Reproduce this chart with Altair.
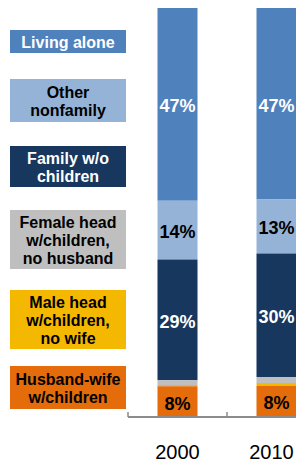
import altair as alt
import pandas as pd

# ---- data ----
years = ["2000", "2010"]
categories = ["Living alone", "Other nonfamily", "Family w/o children",
              "Female head w/children, no husband", "Male head w/children, no wife",
              "Husband-wife w/children"]
legend_labels = ["Living alone", "Other\nnonfamily", "Family w/o\nchildren",
                 "Female head\nw/children,\nno husband", "Male head\nw/children,\nno wife",
                 "Husband-wife\nw/children"]
values_2000 = [47.1, 14.4, 29.5, 1.2, 0.3, 7.5]
values_2010 = [46.8, 13.2, 30.2, 1.5, 0.7, 7.6]
labels_2000 = ["47%", "14%", "29%", "", "", "8%"]
labels_2010 = ["47%", "13%", "30%", "", "", "8%"]

# ---- styles / layout ----
colors = ["#4F81BD", "#95B3D7", "#17375E", "#BFBFBF", "#F5B800", "#E46C0A"]
text_colors = ["#FFFFFF", "#000000", "#FFFFFF", "#000000", "#000000", "#000000"]
stack_order = [5, 4, 3, 2, 1, 0]
legend_top = [22, 71, 138, 202, 282, 358]
legend_height = [23, 43, 41, 59, 59, 43]
year_label_dx = [0, -5]
W = 288
PLOT_H = 409
BOTTOM = 46
LABEL_BASE = PLOT_H + 42
LINE_H = 18
LEG_X0, LEG_X1 = 2, 118
BAR_X0 = 120
BAND = 99
FONT = "Liberation Sans"

rows = []
for yr, vals, labs in [("2000", values_2000, labels_2000), ("2010", values_2010, labels_2010)]:
    for i, c in enumerate(categories):
        rows.append({"year": yr, "category": c, "value": vals[i], "label": labs[i],
                     "order": stack_order[i], "tcolor": text_colors[i]})
df = pd.DataFrame(rows)

leg = pd.DataFrame({
    "label": legend_labels, "color": colors, "tcolor": text_colors,
    "top": legend_top, "bottom": [t + h for t, h in zip(legend_top, legend_height)],
})
leg["nlines"] = leg["label"].str.count("\n") + 1
leg["ytext"] = (leg["top"] + leg["bottom"]) / 2 - (leg["nlines"] - 1) * LINE_H / 2

yscale_leg = alt.Scale(domain=[0, PLOT_H], reverse=True, nice=False)
leg_rect = alt.Chart(leg).mark_rect().encode(
    x=alt.value(LEG_X0), x2=alt.value(LEG_X1),
    y=alt.Y("top:Q", scale=yscale_leg, axis=None), y2="bottom:Q",
    color=alt.Color("color:N", scale=None),
)
leg_text = alt.Chart(leg).mark_text(
    font=FONT, fontSize=16, fontWeight="bold", lineBreak="\n", lineHeight=LINE_H,
    baseline="middle", align="center", dy=1.5,
).encode(
    x=alt.value((LEG_X0 + LEG_X1) / 2),
    y=alt.Y("ytext:Q", scale=yscale_leg, axis=None),
    text="label:N",
    color=alt.Color("tcolor:N", scale=None),
)
legend_layer = alt.layer(leg_rect, leg_text)

xscale = alt.Scale(domain=years, range=[BAR_X0, BAR_X0 + 2 * BAND], paddingInner=0, paddingOuter=0)
yscale = alt.Scale(domain=[0, 100], nice=False)

bars = alt.Chart(df).mark_bar(size=40).encode(
    x=alt.X("year:N", scale=xscale, axis=None),
    y=alt.Y("value:Q", stack="zero", scale=yscale, axis=None),
    color=alt.Color("category:N", scale=alt.Scale(domain=categories, range=colors), legend=None),
    order=alt.Order("order:Q"),
)

labels = alt.Chart(df).transform_stack(
    stack="value", groupby=["year"], as_=["v0", "v1"], sort=[alt.SortField("order")]
).transform_calculate(
    mid="(datum.v0 + datum.v1) / 2"
).transform_filter(
    "datum.label != ''"
).mark_text(font=FONT, fontSize=18, fontWeight="bold", dy=3, baseline="middle").encode(
    x=alt.X("year:N", scale=xscale),
    y=alt.Y("mid:Q", scale=yscale),
    text="label:N",
    color=alt.Color("tcolor:N", scale=None),
)

base_df = pd.DataFrame({"year": years})
year_label_layers = []
for yr, ddx in zip(years, year_label_dx):
    year_label_layers.append(
        alt.Chart(base_df).transform_filter(alt.datum.year == yr).mark_text(
            font=FONT, fontSize=20, color="#000000", baseline="alphabetic", align="center", dx=ddx
        ).encode(
            x=alt.X("year:N", scale=xscale),
            y=alt.value(LABEL_BASE),
            text="year:N",
        )
    )
baseline = alt.Chart(base_df).mark_rule(color="#8C8C8C", strokeWidth=2).encode(
    x=alt.value(BAR_X0), x2=alt.value(W), y=alt.value(PLOT_H),
)
ticks = alt.Chart(base_df).mark_rule(color="#8C8C8C", strokeWidth=1.5).encode(
    x=alt.X("year:N", scale=xscale, bandPosition=0),
    y=alt.value(PLOT_H - 5), y2=alt.value(PLOT_H),
)

bar_layer = alt.layer(bars, labels, baseline, ticks, *year_label_layers)

chart = alt.layer(legend_layer, bar_layer).resolve_scale(y="independent").properties(
    width=W, height=PLOT_H,
    autosize=alt.AutoSizeParams(type="none"),
    padding={"left": 0, "top": 0, "right": 0, "bottom": BOTTOM},
).configure_view(stroke=None)

chart.save("out.html", embed_options={"renderer": "svg", "actions": False})
